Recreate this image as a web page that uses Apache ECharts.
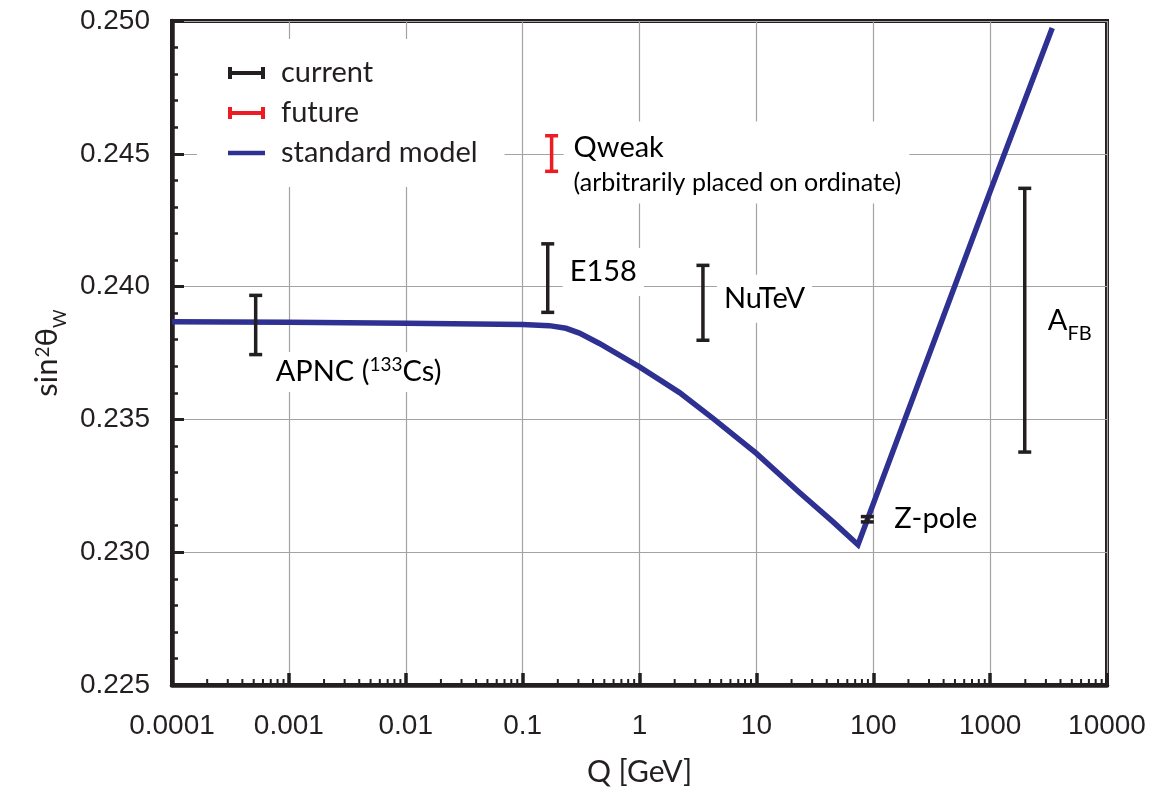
<!DOCTYPE html>
<html>
<head>
<meta charset="utf-8">
<script src="https://cdn.jsdelivr.net/npm/echarts@6/dist/echarts.min.js"></script>
<style>
  html, body { margin: 0; padding: 0; background: #fff; }
  #chart { width: 1155px; height: 795px; }
</style>
</head>
<body>
<div id="chart"></div>
<script>
// Running of the weak mixing angle in the standard model
const smQ    = [0.0001, 0.001, 0.01, 0.0631, 0.1, 0.169, 0.235, 0.306, 0.454, 0.674, 1, 1.48, 2.2, 4.25, 10, 23.5, 45.3, 74, 1000, 3400];
const smSin2 = [0.23868, 0.23866, 0.23862, 0.23858, 0.23857, 0.23853, 0.23843, 0.23825, 0.23786, 0.23742, 0.23698, 0.23650, 0.23601, 0.23504, 0.23372, 0.23224, 0.23114, 0.23028, 0.24358, 0.24974];

// Existing measurements (Q in GeV, lower and upper edge of the error bar)
const currentNames = ['APNC', 'E158', 'NuTeV', 'Z-pole', 'AFB'];
const currentQ     = [0.00052, 0.164, 3.49, 89, 1978];
const currentLow   = [0.23744, 0.23903, 0.23798, 0.23114, 0.23377];
const currentHigh  = [0.23967, 0.24161, 0.24080, 0.23134, 0.24370];

// Planned measurement
const futureNames = ['Qweak'];
const futureQ     = [0.177];
const futureLow   = [0.24434];
const futureHigh  = [0.24568];

// Axis tick labels
const xTickLabels = ['0.0001', '0.001', '0.01', '0.1', '1', '10', '100', '1000', '10000'];
const yTickLabels = ['0.225', '0.230', '0.235', '0.240', '0.245', '0.250'];

const INK = '#231f20';
const BLUE = '#2e3192';
const RED = '#ed1c24';
const GRID = '#a3a3a3';
const TEXT_FONT = 'Lato';
const TICK_FONT = 'Liberation Sans';

// Text placed beside each error bar; dx/dy are offsets of the text box from the bar centre
const barLabels = {
  'APNC':   { text: '{t|APNC (}{sup|133}{t|Cs)}', dx: 16, dy: 47, pad: [0, 4, 0, 4] },
  'E158':   { text: '{t|E158}', dx: 15, dy: -6, pad: [4, 7, 4, 7] },
  'NuTeV':  { text: '{t|NuTeV}', dx: 14, dy: -4, pad: [4, 7, 4, 7] },
  'Z-pole': { text: '{t|Z-pole}', dx: 23, dy: -1, pad: [2, 4, 2, 4] },
  'AFB':    { text: '{t|A}{sub|FB}', dx: 21, dy: 0, pad: [0, 2, 0, 2] },
  'Qweak':  { text: '{t|Qweak}\n{s|(arbitrarily placed on ordinate)}', dx: 12, dy: 9, pad: [6, 8, 6, 10] }
};

const labelRich = {
  t:   { fontFamily: TEXT_FONT, fontSize: 29, color: INK, lineHeight: 40 },
  s:   { fontFamily: TEXT_FONT, fontSize: 25, color: INK, lineHeight: 30 },
  sup: { fontFamily: TEXT_FONT, fontSize: 19, color: INK, lineHeight: 40, verticalAlign: 'top', padding: [3, 0, 0, 0] },
  sub: { fontFamily: TEXT_FONT, fontSize: 20, color: INK, lineHeight: 46, verticalAlign: 'bottom' }
};

function makeErrorBarRenderer(names) {
  return function (params, api) {
    const q = api.value(0);
    const top = api.coord([q, api.value(2)]);
    const bot = api.coord([q, api.value(1)]);
    const color = api.visual('color');
    const cap = 6.5;
    const lw = 3.5;
    const lineStyle = { stroke: color, lineWidth: lw };
    const children = [
      { type: 'line', shape: { x1: top[0], y1: top[1], x2: bot[0], y2: bot[1] }, style: lineStyle },
      { type: 'line', shape: { x1: top[0] - cap, y1: top[1], x2: top[0] + cap, y2: top[1] }, style: lineStyle },
      { type: 'line', shape: { x1: bot[0] - cap, y1: bot[1], x2: bot[0] + cap, y2: bot[1] }, style: lineStyle }
    ];
    const spec = barLabels[names[params.dataIndex]];
    if (spec) {
      children.push({
        type: 'text',
        z2: 5,
        x: top[0] + spec.dx,
        y: (top[1] + bot[1]) / 2 + spec.dy,
        style: {
          text: spec.text,
          rich: labelRich,
          align: 'left',
          verticalAlign: 'middle',
          backgroundColor: '#fff',
          padding: spec.pad
        }
      });
    }
    return { type: 'group', children: children };
  };
}

// Legend icons: horizontal error bar and a plain line
const errorBarIcon = 'path://M0,0H4V4H33V0H37V12H33V8H4V12H0Z';
const lineIcon = 'path://M0,0H35V4.4H0Z';

const chart = echarts.init(document.getElementById('chart'), null, { renderer: 'canvas' });

const option = {
  animation: false,
  backgroundColor: '#fff',
  grid: {
    left: 172, top: 21, width: 935, height: 664,
    show: true, borderColor: INK, borderWidth: 4, backgroundColor: 'transparent'
  },
  legend: {
    orient: 'vertical',
    left: 197, top: 39,
    padding: [19, 27, 19, 31],
    backgroundColor: '#fff',
    itemWidth: 37, itemHeight: 12, itemGap: 10,
    selectedMode: false,
    textStyle: { fontFamily: TEXT_FONT, fontSize: 29, color: INK, lineHeight: 30, padding: [0, 0, 0, 11] },
    data: [
      { name: 'current', icon: errorBarIcon },
      { name: 'future', icon: errorBarIcon },
      { name: 'standard model', icon: lineIcon }
    ]
  },
  xAxis: {
    type: 'log',
    logBase: 10,
    min: 0.0001, max: 10000,
    splitNumber: 8,
    name: 'Q [GeV]',
    nameLocation: 'middle',
    nameGap: 72,
    nameTextStyle: { fontFamily: TEXT_FONT, fontSize: 30, color: INK },
    axisLine: { show: true, lineStyle: { color: INK, width: 4.5 } },
    axisTick: { show: true, inside: true, length: 12, lineStyle: { color: INK, width: 3.5 } },
    axisLabel: {
      margin: 27, fontFamily: TICK_FONT, fontSize: 28, color: INK,
      formatter: function (v) { return xTickLabels[Math.round(Math.log10(v)) + 4]; }
    },
    splitLine: { show: true, lineStyle: { color: GRID, width: 1.2 } }
  },
  yAxis: {
    type: 'value',
    min: 0.225, max: 0.25, interval: 0.005,
    name: '{a|sin}{sup|2}{a|θ}{sub|W}',
    nameLocation: 'middle',
    nameGap: 103,
    nameTextStyle: {
      rich: {
        a:   { fontFamily: TEXT_FONT, fontSize: 31, color: INK, lineHeight: 44 },
        sup: { fontFamily: TEXT_FONT, fontSize: 19, color: INK, lineHeight: 44, verticalAlign: 'top', padding: [8, 0, 0, 1] },
        sub: { fontFamily: TEXT_FONT, fontSize: 18, color: INK, lineHeight: 44, verticalAlign: 'bottom' }
      }
    },
    axisLine: { show: true, lineStyle: { color: INK, width: 4.5 } },
    axisTick: { show: true, inside: true, length: 12, lineStyle: { color: INK, width: 3 } },
    minorTick: { show: true, splitNumber: 5, length: 6, lineStyle: { color: INK, width: 2.5 } },
    axisLabel: {
      margin: 22, fontFamily: TICK_FONT, fontSize: 28, color: INK,
      formatter: function (v) { return yTickLabels[Math.round((v - 0.225) / 0.005)]; }
    },
    splitLine: { show: true, lineStyle: { color: GRID, width: 1.2 } }
  },
  series: [
    {
      name: 'standard model',
      type: 'line',
      data: smQ.map(function (q, i) { return [q, smSin2[i]]; }),
      showSymbol: false,
      symbol: 'none',
      color: BLUE,
      lineStyle: { color: BLUE, width: 5.5, join: 'miter', cap: 'butt' },
      z: 3
    },
    {
      name: 'current',
      type: 'custom',
      color: INK,
      itemStyle: { color: INK },
      data: currentQ.map(function (q, i) { return [q, currentLow[i], currentHigh[i]]; }),
      encode: { x: 0, y: [1, 2] },
      renderItem: makeErrorBarRenderer(currentNames),
      z: 4
    },
    {
      name: 'future',
      type: 'custom',
      color: RED,
      itemStyle: { color: RED },
      data: futureQ.map(function (q, i) { return [q, futureLow[i], futureHigh[i]]; }),
      encode: { x: 0, y: [1, 2] },
      renderItem: makeErrorBarRenderer(futureNames),
      z: 4
    }
  ]
};

chart.setOption(option);

// Minor ticks at 2..9 within every decade of the log axis
const y0 = chart.convertToPixel({ yAxisIndex: 0 }, 0.225);
const minorTicks = [];
for (let e = -4; e < 4; e++) {
  for (let m = 2; m <= 9; m++) {
    const px = chart.convertToPixel({ xAxisIndex: 0 }, m * Math.pow(10, e));
    minorTicks.push({
      type: 'line',
      silent: true,
      z: 10,
      shape: { x1: px, y1: y0, x2: px, y2: y0 - 6 },
      style: { stroke: INK, lineWidth: 2 }
    });
  }
}
chart.setOption({ graphic: minorTicks });
</script>
</body>
</html>
